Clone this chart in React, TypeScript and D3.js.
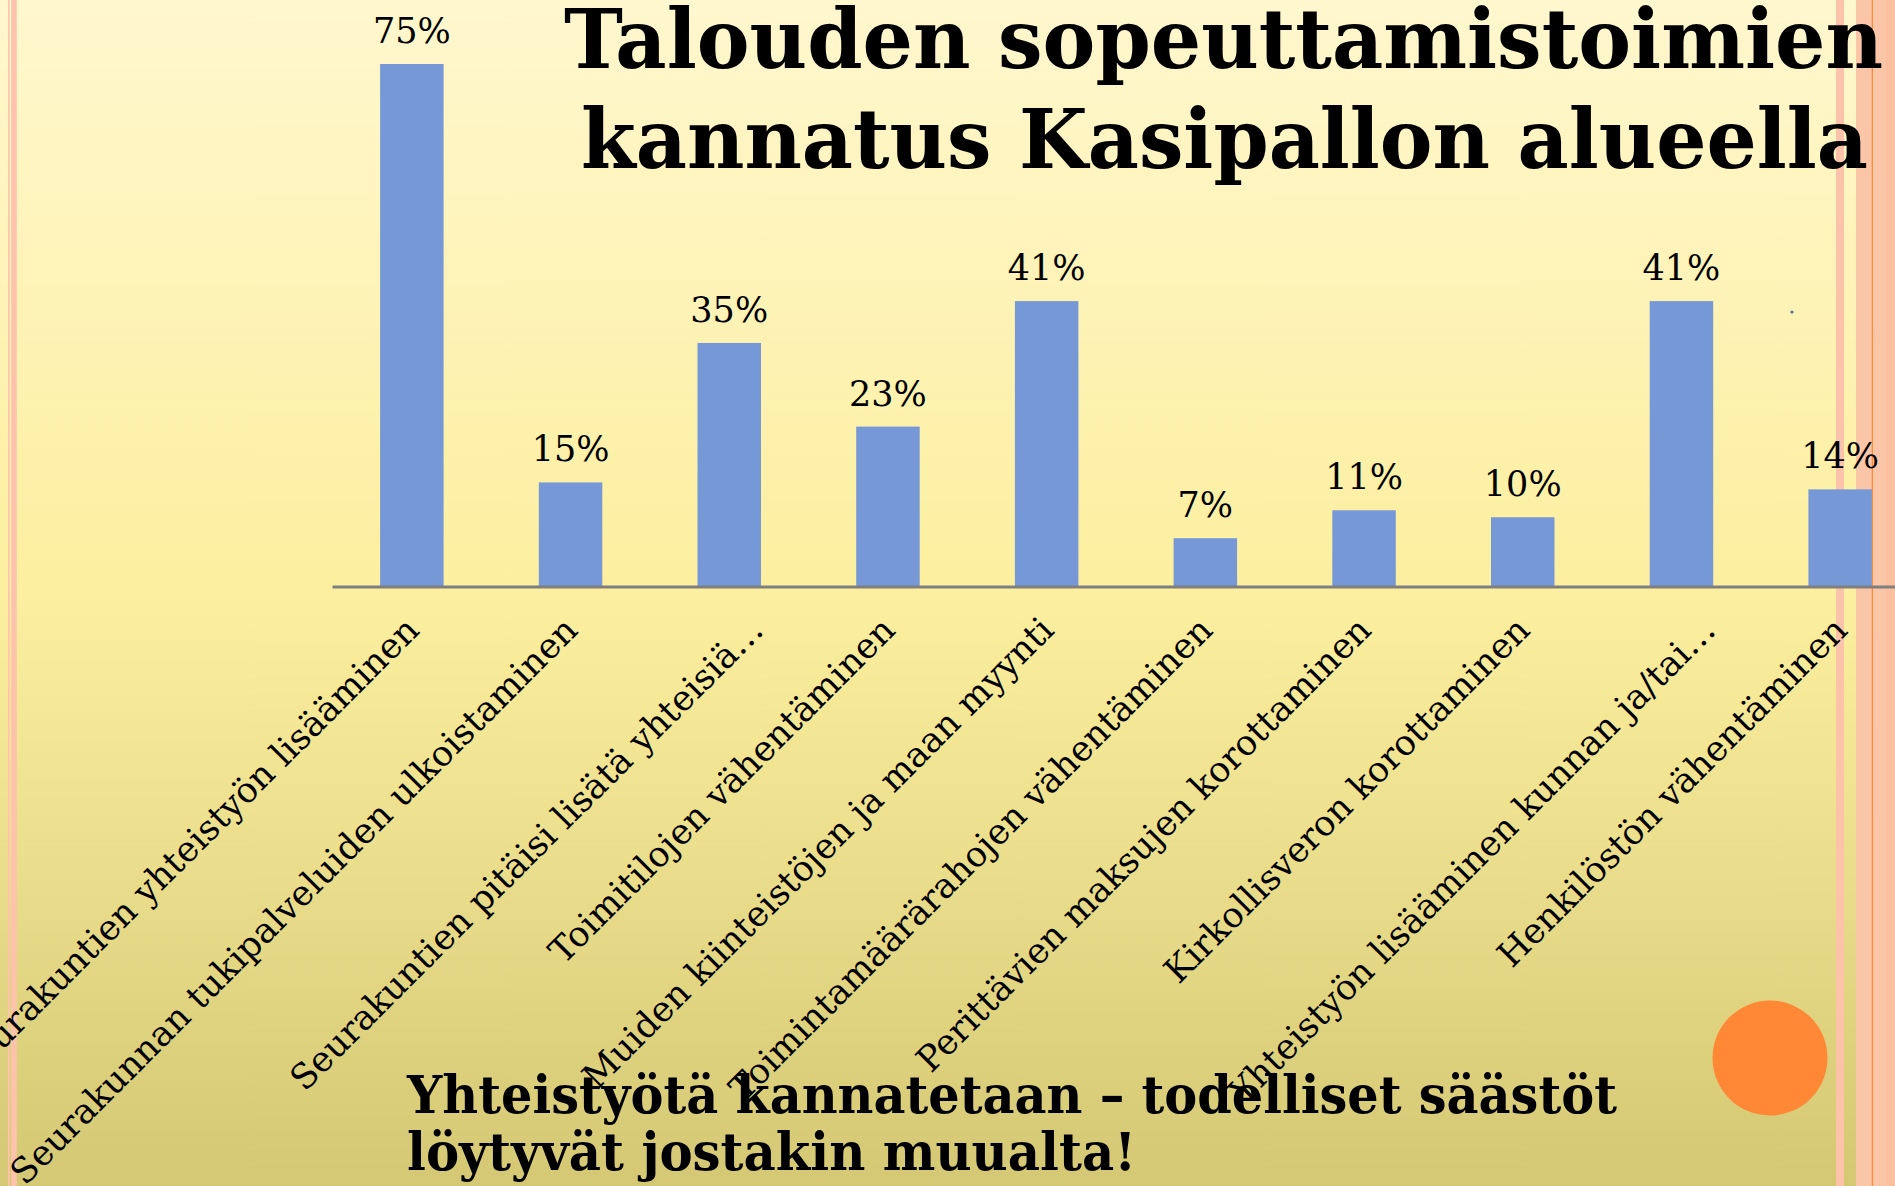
import React from "react";
import * as d3 from "d3";

const categories = [
  "Seurakuntien yhteistyön lisääminen",
  "Seurakunnan tukipalveluiden ulkoistaminen",
  "Seurakuntien pitäisi lisätä yhteisiä…",
  "Toimitilojen vähentäminen",
  "Muiden kiinteistöjen ja maan myynti",
  "Toimintamäärärahojen vähentäminen",
  "Perittävien maksujen korottaminen",
  "Kirkollisveron korottaminen",
  "Yhteistyön lisääminen kunnan ja/tai…",
  "Henkilöstön vähentäminen",
];
const values = [75, 15, 35, 23, 41, 7, 11, 10, 41, 14];

const titleLines = ["Talouden sopeuttamistoimien", "kannatus Kasipallon alueella"];
const footerLines = ["Yhteistyötä kannatetaan – todelliset säästöt", "löytyvät jostakin muualta!"];

const W = 1895;
const H = 1186;
const FONT = "'DejaVu Serif', 'Liberation Serif', serif";

const App = () => {
  const axisY = 587;
  const x = d3
    .scaleBand()
    .domain(categories)
    .range([332.5, 332.5 + 158.7 * categories.length])
    .paddingInner(0.6)
    .paddingOuter(0.3);
  const y = d3.scaleLinear().domain([0, 75]).range([axisY, 64]);
  const bw = x.bandwidth();

  return (
    <svg
      width={W}
      height={H}
      style={{ position: "absolute", left: 0, top: 0 }}
      fontFamily={FONT}
    >
      <defs>
        <linearGradient id="bg" x1="0" y1="0" x2="0" y2="1">
          <stop offset="0" stopColor="#FFF7CE" />
          <stop offset="0.5" stopColor="#FCEF9F" />
          <stop offset="1" stopColor="#D5C874" />
        </linearGradient>
      </defs>
      <rect width={W} height={H} fill="url(#bg)" />

      {/* side stripes */}
      <rect x={8} width={1.6} height={H} fill="#FDC3AD" />
      <rect x={11.2} width={5.6} height={H} fill="#FEC2AD" />
      <rect x={1836} width={8} height={H} fill="#FCC3AA" />
      <rect x={1856} width={16} height={H} fill="#FBC5A8" />
      <rect x={1871.7} width={1.5} height={H} fill="#FF8A3C" />
      <rect x={1873.2} width={13} height={H} fill="#FBC5A8" />
      <rect x={1886} width={9} height={H} fill="#FCBFA0" />

      <circle cx={1770} cy={1058} r={57.5} fill="#FE8835" />
      <circle cx={1792} cy={312} r={1.6} fill="#5D6B8A" />

      {/* bars */}
      <g>
        {categories.map((c, i) => (
          <rect
            key={c}
            x={x(c)}
            y={y(values[i])}
            width={bw}
            height={axisY - y(values[i])}
            fill="#7698D6"
          />
        ))}
      </g>
      <line x1={332.5} x2={W} y1={axisY} y2={axisY} stroke="#7F7F7F" strokeWidth={3} />

      {/* value labels */}
      <g fontSize={35} textAnchor="middle" fill="#000">
        {categories.map((c, i) => (
          <text key={c} x={x(c) + bw / 2} y={y(values[i]) - 21}>
            {values[i]}%
          </text>
        ))}
      </g>

      {/* category labels */}
      <g fontSize={35} textAnchor="end" fill="#000">
        {categories.map(c => {
          const ox = x(c) + bw / 2 + (c.endsWith("…") ? 36 : 9);
          const oy = axisY + 45;
          return (
            <text key={c} transform={`translate(${ox},${oy}) rotate(-45)`}>
              {c}
            </text>
          );
        })}
      </g>

      {/* title */}
      <g fontWeight="bold" fontSize={82} fill="#000">
        <text x={564} y={68} textLength={1319} lengthAdjust="spacingAndGlyphs">
          {titleLines[0]}
        </text>
        <text x={581} y={168} textLength={1287} lengthAdjust="spacingAndGlyphs">
          {titleLines[1]}
        </text>
      </g>

      {/* footer */}
      <g fontWeight="bold" fontSize={52} fill="#000">
        <text x={407} y={1113} textLength={1210} lengthAdjust="spacingAndGlyphs">
          {footerLines[0]}
        </text>
        <text x={407} y={1170} textLength={729} lengthAdjust="spacingAndGlyphs">
          {footerLines[1]}
        </text>
      </g>
    </svg>
  );
};

export default App;
